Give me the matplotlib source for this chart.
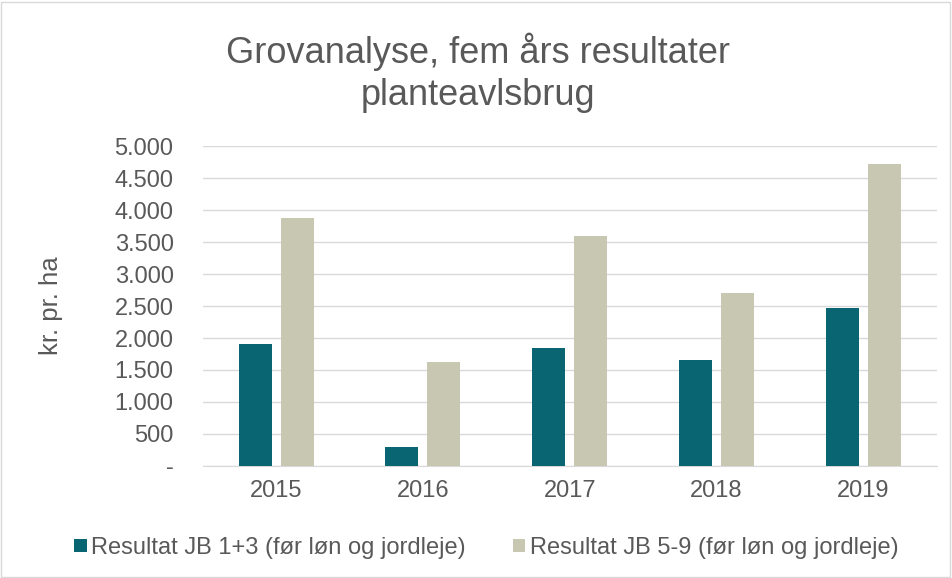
import numpy as np
import matplotlib
matplotlib.use("Agg")
import matplotlib.pyplot as plt
from matplotlib.patches import Rectangle

years = ["2015", "2016", "2017", "2018", "2019"]
jb_1_3 = [1910, 290, 1840, 1655, 2465]
jb_5_9 = [3880, 1630, 3600, 2700, 4715]
y_ticks = [0, 500, 1000, 1500, 2000, 2500, 3000, 3500, 4000, 4500, 5000]

plt.rcParams['font.family'] = ['Liberation Sans', 'DejaVu Sans']
grey = '#595959'

fig = plt.figure(figsize=(9.52, 5.78), dpi=100)
ax = fig.add_axes([0.213, 0.194, 0.771, 0.553])

x = np.arange(len(years))
w = 0.225
off = 0.143
ax.bar(x - off, jb_1_3, w, color='#086571', label='Resultat JB 1+3 (før løn og jordleje)', zorder=3)
ax.bar(x + off, jb_5_9, w, color='#c8c7b1', label='Resultat JB 5-9 (før løn og jordleje)', zorder=3)

ax.set_xlim(-0.5, len(years) - 0.5)
ax.set_ylim(0, 5000)
ax.set_xticks(x)
ax.set_xticklabels(years)
ax.set_yticks(y_ticks)
ax.set_yticklabels(['-' if v == 0 else f"{v:,}".replace(',', '.') for v in y_ticks])
ax.tick_params(length=0, labelsize=17, colors=grey)
ax.tick_params(axis='x', pad=10)
ax.tick_params(axis='y', pad=21)
ax.grid(axis='y', color='#d9d9d9', linewidth=1, zorder=0)
for s in ['top', 'right', 'left']:
    ax.spines[s].set_visible(False)
ax.spines['bottom'].set_color('#d9d9d9')

ax.set_ylabel('kr. pr. ha', fontsize=18.5, color=grey)
ax.yaxis.set_label_coords(-0.191, 0.5)

fig.text(0.502, 1 - 63 / 578, 'Grovanalyse, fem års resultater', ha='center', va='baseline',
         fontsize=26, color=grey)
fig.text(0.502, 1 - 105 / 578, 'planteavlsbrug', ha='center', va='baseline',
         fontsize=26, color=grey)

fig.legend(loc='center', bbox_to_anchor=(0.511, 0.052), ncol=2, frameon=False,
           fontsize=17, labelcolor=grey, handlelength=0.52, handleheight=0.52,
           handletextpad=0.2, columnspacing=2.0)

fig.patches.append(Rectangle((0.001, 0.002), 0.997, 0.995, transform=fig.transFigure,
                             fill=False, edgecolor='#d9d9d9', linewidth=1))

fig.savefig('out.png', dpi=100)
